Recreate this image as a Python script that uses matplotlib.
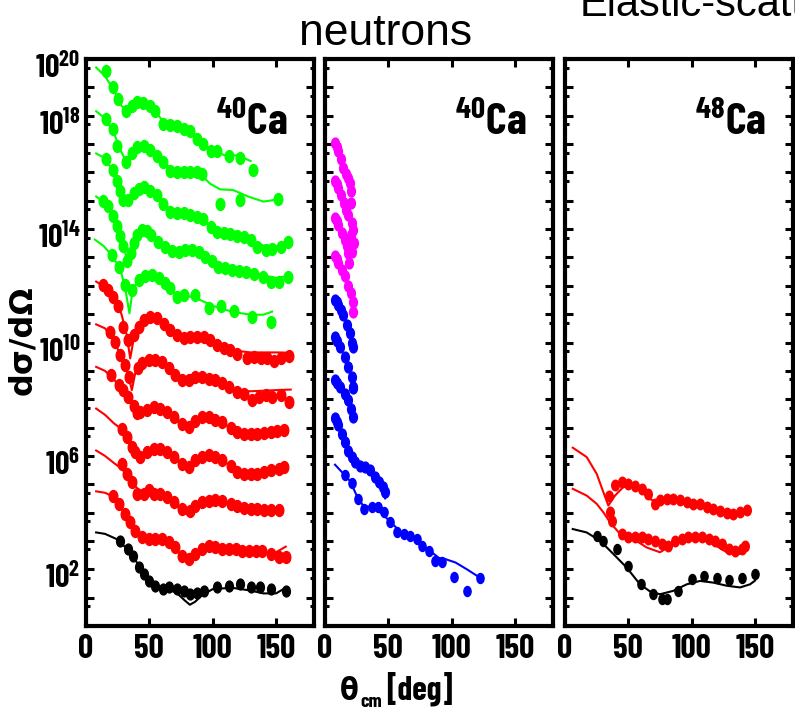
import numpy as np
import matplotlib
matplotlib.use('Agg')
import matplotlib.pyplot as plt
from matplotlib.path import Path
from matplotlib.transforms import Affine2D, ScaledTranslation
from matplotlib.ticker import FixedLocator, FixedFormatter, NullFormatter

COND = 'Barlow Condensed'
plt.rcParams['font.family'] = [COND, 'DejaVu Sans']
plt.rcParams['mathtext.fontset'] = 'custom'
plt.rcParams['mathtext.rm'] = COND + ':bold'
plt.rcParams['mathtext.it'] = COND + ':bold'
plt.rcParams['mathtext.bf'] = COND + ':bold'
plt.rcParams['mathtext.default'] = 'rm'

# ---------------- data: angle [deg], log10(dsigma/dOmega) ----------------
# Panel 1 (40Ca) green series
g1_x = [15.8,21.4,25.4,31.7,36.5,40.4,45.2,50.7,54.7,61,66.6,72,77,82.4,88,92.7,98.3,103.8,112.5,121.2,131.5]
g1_y = [19.58,19.0,18.58,18.16,18.34,18.48,18.44,18.34,18.16,17.7,17.66,17.63,17.52,17.45,17.17,16.99,16.74,16.74,16.57,16.5,16.1]
g1_lx = [8,15,22,28,32,38,45,52,60,70,80,90,100,110,120,130]
g1_ly = [19.7,19.4,18.9,18.35,18.2,18.4,18.45,18.3,17.85,17.65,17.5,17.1,16.75,16.6,16.6,16.4]

g2_x = [15.8,21.4,24.6,31.7,36.5,40.4,46,50.7,56,61,66.6,72,77,82.4,88,91.6,106,121.4,151.6]
g2_y = [17.88,17.52,16.92,16.37,16.7,16.88,16.92,16.8,16.57,16.35,16.05,16.0,16.0,16.0,16.0,15.93,14.9,15.04,15.07]
g2_lx = [8,15,22,27,31,36,42,48,55,62,70,80,90,98,106,116,128,140,152]
g2_ly = [18.16,17.9,17.4,16.8,16.45,16.65,16.9,16.88,16.6,16.3,16.05,16.0,15.95,15.6,15.4,15.38,15.15,14.97,15.05]

g3_x = [15.8,21.4,24.6,27,29.5,33.5,37.6,41.5,46,50.7,56,61,66.6,72,77,82.4,88,92.7,98.3,103.8,108.9,114,119.4,124.6,130,135,141.8,147,153.7,159.5]
g3_y = [16.46,16.1,15.7,15.33,15.04,15.04,15.29,15.43,15.47,15.33,15.22,14.87,14.62,14.58,14.58,14.51,14.44,14.34,14.09,13.91,13.87,13.83,13.77,13.73,13.63,13.38,13.27,13.3,13.38,13.56]
g3_lx = [8,15,22,27,31,36,42,48,55,62,70,80,90,100,110,120,130,140,150,160]
g3_ly = [16.67,16.5,16.0,15.4,15.05,15.15,15.42,15.42,15.25,14.85,14.6,14.55,14.4,14.0,13.85,13.75,13.62,13.42,13.4,13.5]

g4_x = [13.7,17.6,21.4,24.6,27,29.5,32.6,35.7,37.6,40.4,44.3,48,51.5,57,62.6,68,73.4,78.4,83.7,89,94.3,99.6,104.6,110,115.5,120.7,126,132.3,139.4,145.8,152.3,159.5]
g4_y = [14.98,14.8,14.45,14.1,13.75,13.4,12.86,13.17,13.52,13.8,13.98,13.94,13.8,13.56,13.38,13.24,13.2,13.27,13.27,13.2,13.03,12.86,12.68,12.64,12.57,12.53,12.5,12.42,12.32,12.14,12.14,12.32]
g4_lx = [8,14,20,25,29,32.5,35,38,43,48,55,62,70,80,88,95,103,112,122,132,142,150,160]
g4_ly = [15.15,14.95,14.55,14.05,13.5,12.9,13.15,13.6,13.95,13.95,13.65,13.4,13.2,13.25,13.2,13.0,12.72,12.6,12.52,12.45,12.35,12.28,12.35]

g5_x = [20.9,26.4,30.9,36.2,41.5,46.8,52,57.3,62.6,66.6,71.9,77.1,86.4,96.9,106.2,116.7,131.3,145.8]
g5_y = [13.1,12.68,12.04,11.86,12.2,12.33,12.39,12.28,12.1,11.93,11.62,11.68,11.68,11.21,11.27,11.1,10.91,10.74]
g5_lx = [7,14,20,27,31,34.3,37,42,50,60,70,80,90,100,110,120,130,140,147]
g5_ly = [13.63,13.4,13.1,12.6,11.9,11.03,11.9,12.2,12.4,12.2,11.75,11.65,11.5,11.3,11.15,11.05,10.98,10.98,11.09]

# Panel 1 red series
r1_x = [13.7,17.7,21.6,25.6,29.6,33.5,37.5,41.5,45.4,50.7,56,61.3,66.6,71.9,77.1,82.4,87.6,92.9,98.2,103.5,108.8,114,119.4,127.3,132.6,137.9,143.1,148.4,153.7,160.3]
r1_y = [12.04,11.86,11.62,11.27,10.56,10.09,10.27,10.56,10.8,10.89,10.85,10.67,10.44,10.27,10.15,10.2,10.2,10.2,10.1,9.91,9.79,9.72,9.61,9.44,9.5,9.44,9.44,9.35,9.44,9.52]
r1_lx = [8,15,22,28,32,34.9,38,42,48,55,62,70,80,90,100,110,120,130,140,150,161.6]
r1_ly = [12.15,11.95,11.6,11.0,10.3,9.44,10.2,10.55,10.85,10.88,10.65,10.3,10.15,10.2,10.05,9.8,9.7,9.65,9.65,9.65,9.64]

r2_x = [19,23,27,30.9,34.3,40.7,44,49.4,54.7,59.9,65.2,70.5,75.8,81.1,86.4,91.6,96.9,102.2,107.5,112.8,119.4,124.6,131.3,136.6,141.9,147.2,153.7,160.3]
r2_y = [10.38,10.03,9.56,9.2,8.79,9.09,9.26,9.38,9.39,9.32,9.09,8.85,8.67,8.67,8.79,8.8,8.73,8.67,8.56,8.44,8.26,8.2,7.96,8.08,8.14,8.08,8.14,7.91]
r2_lx = [8,15,22,28,33,36.2,39,44,50,58,65,72,80,88,96,104,112,120,130,140,150,161.6]
r2_ly = [10.64,10.5,10.1,9.45,8.9,8.32,8.95,9.25,9.38,9.33,9.1,8.8,8.68,8.78,8.75,8.65,8.45,8.3,8.28,8.3,8.32,8.34]

r3_x = [20,26,29.6,33.5,37.5,40,42.8,48.1,53.3,58.6,63.9,69.2,75.8,81.1,86.4,91.7,97,102.2,107.5,114.1,119.4,124.6,129.9,135.2,140.5,145.8,151.1,156.4]
r3_y = [8.85,8.5,8.32,8.08,7.75,7.5,7.55,7.61,7.73,7.67,7.55,7.37,7.13,7.02,7.23,7.37,7.37,7.25,7.2,6.97,6.85,6.79,6.79,6.79,6.8,6.85,6.88,6.91]
r3_lx = [8,15,22,30,36,40,45,52,58,65,72,78,82,88,95,102,110,118,126,135,145,157]
r3_ly = [9.14,9.0,8.7,8.25,7.8,7.5,7.55,7.72,7.7,7.5,7.22,7.05,7.05,7.25,7.35,7.3,7.1,6.9,6.8,6.78,6.82,6.9]

r4_x = [28.3,32.3,36.4,38.8,42.8,48.1,53.3,58.6,63.9,69.2,75.8,81.1,86.4,91.7,97,102.2,107.5,114.1,119.4,124.6,129.9,135.2,140.5,145.8,152.4,156.4]
r4_y = [6.96,6.67,6.31,6.14,5.96,6.14,6.25,6.25,6.14,5.96,5.72,5.6,5.84,5.96,6.02,5.96,5.84,5.66,5.43,5.37,5.37,5.37,5.43,5.49,5.55,5.61]
r4_lx = [8,15,22,28,34,38,42,46,52,60,68,76,82,90,98,108,115,125,135,145,157]
r4_ly = [7.67,7.45,7.15,6.95,6.5,6.1,5.9,6.0,6.2,6.2,6.0,5.7,5.65,5.9,6.0,5.85,5.6,5.4,5.35,5.42,5.55]

r5_x = [28.3,32.7,36.4,40.2,45.4,49.4,53.3,58.6,63.9,69.2,75.8,81.9,86.4,91.7,97,102.2,107.5,114.1,119.4,124.6,129.9,135.2,140.5,145.8,152.4]
r5_y = [5.72,5.37,5.07,4.66,4.66,4.78,4.66,4.66,4.54,4.37,4.13,4.07,4.25,4.37,4.42,4.44,4.42,4.32,4.25,4.16,4.13,4.13,4.1,4.1,4.1]
r5_lx = [8,15,22,28,33,37,42,48,55,65,75,81,88,95,105,115,125,135,145,152]
r5_ly = [6.19,6.0,5.75,5.55,5.3,5.0,4.8,4.72,4.68,4.5,4.1,3.9,4.2,4.4,4.45,4.3,4.15,4.1,4.1,4.1]

r6_x = [21.1,26.4,30.9,34.9,38.8,44.1,49.4,54.7,60,65.2,70.5,75.8,81.1,86.4,91.7,97,102.2,107.5,112.8,118.1,123.4,128.7,134,139.3,145.8,152.4,157.7]
r6_y = [4.6,4.31,3.95,3.66,3.36,3.13,3.07,3.07,3.07,2.95,2.77,2.48,2.36,2.54,2.71,2.83,2.77,2.71,2.72,2.71,2.65,2.63,2.63,2.63,2.54,2.42,2.42]
r6_lx = [8,15,22,30,38,45,55,65,75,81,88,97,110,125,140,150,157.7]
r6_ly = [4.75,4.7,4.55,4.0,3.4,3.15,3.08,2.95,2.5,2.35,2.55,2.8,2.75,2.65,2.6,2.6,2.8]

# Panel 1 black series
k1_x = [27,33,37,41.5,45.4,49.4,54.7,60.7,65.2,71.9,77.1,81.9,87.6,92.9,103.5,113,121.5,130,137.4,146.4,157.7]
k1_y = [3.01,2.72,2.48,2.07,1.83,1.59,1.42,1.32,1.36,1.3,1.24,1.12,1.18,1.24,1.36,1.42,1.48,1.38,1.36,1.3,1.24]
k1_lx = [8,15,25,35,45,55,65,72,78,82,86,92,100,115,130,140,150,157.7]
k1_ly = [3.3,3.25,3.05,2.6,1.9,1.45,1.3,1.15,0.9,0.75,0.85,1.1,1.3,1.35,1.25,1.15,1.15,1.35]

# Panel 2 (40Ca) magenta and blue series
m1_x = [7.9,9.2,10.6,12.4,14.5,16.6,18.2,19.8,20.3,20.3]
m1_y = [17.05,16.9,16.76,16.46,16.16,15.93,15.8,15.63,15.34,14.93]
m2_x = [7.9,9.2,10.6,13,15,16.6,18.5,21.1,22.4,20.8]
m2_y = [15.7,15.6,15.46,15.22,14.93,14.69,14.5,14.22,13.98,13.8]
m3_x = [7.9,9.2,10.6,13.2,15.8,17.5,18.5,19.3,21,22.5]
m3_y = [14.4,14.3,14.16,13.87,13.63,13.4,13.16,12.81,13.2,13.5]
m4_x = [7.9,9.2,10.6,13.2,15.8,18.5,20.3,22,22.4]
m4_y = [13.04,12.95,12.81,12.57,12.33,11.98,11.74,11.44,11.09]

b1_x = [7.9,9.2,10.6,12.5,14.5,17.2,19.8,21.5,22.4]
b1_y = [11.5,11.42,11.33,11.15,10.97,10.62,10.33,10.0,9.85]
b2_x = [7.9,9.5,11.9,15.8,18.5,21.1,22,22.4]
b2_y = [10.2,10.05,9.85,9.5,9.14,8.79,8.44,8.38]
b3_x = [7.9,9.5,11.9,15.8,18.5,20.3,22]
b3_y = [8.67,8.58,8.44,8.2,7.96,7.67,7.37]
b4_x = [7.9,9.2,10.6,13.2,15.8,18.5,21.1,23.8,27.7,31.7,35.7,39.6,43,45.7,47.5]
b4_y = [7.32,7.2,7.08,6.78,6.49,6.19,5.96,5.78,5.66,5.6,5.49,5.25,5.07,4.9,4.72]
b4_lx = [8,15,22,28,35,42,47.5]
b4_ly = [7.3,6.55,5.9,5.65,5.5,5.1,4.5]
b5_x = [15.8,21.1,26.4,30.9,37,41.5,46.2,51.5,56.8,62,67.3,72.6,76.6,81.8,87.2,92.5,101.7,112.3,122.3]
b5_y = [5.31,5.04,4.48,4.13,4.19,4.19,4.01,3.66,3.3,3.25,3.19,3.07,2.83,2.65,2.3,2.24,1.73,1.24,1.71]
b5_lx = [7.9,15,20,25,30,40,50,60,70,80,90,95,103,112,120,122.3]
b5_ly = [5.69,5.35,5.1,4.6,4.25,4.15,3.75,3.3,3.1,2.75,2.4,2.36,2.24,2.0,1.77,1.71]

# Panel 3 (48Ca)
ra_x = [35,39.5,44.8,50,55,60.6,65.8,71.1,75,80.3,85.5,90.8,96.1,101.3,106.6,111.9,117.1,122.4,127.7,132.9,138.2,143.5]
ra_y = [4.6,4.96,5.07,5.02,4.95,4.84,4.66,4.31,4.43,4.48,4.48,4.45,4.37,4.31,4.29,4.2,4.14,4.05,3.98,3.96,4.02,4.1]
ra_lx = [6.1,17.1,25,30.3,34.2,39.5,46,51.3,59.2,67.1,72.4,80,90,100,110,120,130,138,143.5]
ra_ly = [6.29,5.96,5.37,4.72,4.25,4.6,4.9,4.95,4.78,4.48,4.37,4.4,4.4,4.3,4.2,4.08,3.98,3.98,4.05]
rb_x = [35.5,36.9,44.8,50,55.3,60.6,65.8,71.1,76.3,81.6,86.9,92.1,97.4,102.7,108,113.3,118.5,123.8,129.1,134.3,139.6,142.2]
rb_y = [4.01,3.72,3.25,3.13,3.13,3.13,3.07,3.01,2.89,2.83,3.01,3.07,3.13,3.13,3.13,3.07,3.01,2.89,2.71,2.65,2.71,2.83]
rb_lx = [6.1,17.1,25,30.3,35.5,43.4,54,64.5,75,85.5,96.1,106.6,117.1,127.7,138.2,143.5]
rb_ly = [4.84,4.6,4.31,4.01,3.66,3.25,3.07,2.77,2.6,2.89,3.07,3.07,2.89,2.6,2.54,2.71]
k3_x = [25,30.3,40.8,50,59.8,69.7,76.3,80.3,89.5,100,109.8,120.3,129.8,139.6,150]
k3_y = [3.19,3.01,2.72,2.12,1.47,1.12,0.94,0.94,1.24,1.65,1.77,1.71,1.62,1.69,1.85]
k3_lx = [6.1,17.1,27.6,38.2,48.7,59.2,67.1,75,85.5,96.1,106.6,117.1,127.7,138.2,146.1,150]
k3_ly = [3.42,3.3,3.01,2.54,2.06,1.47,1.22,1.12,1.24,1.47,1.59,1.53,1.42,1.36,1.47,1.6]

x_ticks = [0, 50, 100, 150]
y_label_exps = [20, 18, 14, 10, 6, 2]
panel_labels = ['40', '40', '48']

GREEN, RED, BLACK, MAG, BLUE = '#00ff00', '#ff0000', '#000000', '#ff00ff', '#0000ff'

ell = Path.unit_circle().transformed(Affine2D().scale(0.72, 1.0))

fig = plt.figure(figsize=(7.95, 7.24), dpi=100)
W, H = 795.0, 724.0
lefts = [86, 325, 565]
axes = []
down = ScaledTranslation(0, -6 / 100.0, fig.dpi_scale_trans)
for i, l in enumerate(lefts):
    ax = fig.add_axes([l / W, 1 - 626 / H, 228 / W, 567 / H])
    ax.set_yscale('log')
    ax.set_xlim(0, 180)
    ax.set_ylim(1, 1e20)
    ax.xaxis.set_major_locator(FixedLocator(x_ticks))
    ax.set_xticklabels([str(t) for t in x_ticks])
    ax.yaxis.set_major_locator(FixedLocator(10.0 ** np.arange(0, 21)))
    ax.yaxis.set_minor_locator(FixedLocator(5 * 10.0 ** np.arange(0, 20)))
    ax.yaxis.set_minor_formatter(NullFormatter())
    if i == 0:
        labs = [(r'$10^{%d}$' % e if e in y_label_exps else '') for e in range(0, 21)]
        ax.yaxis.set_major_formatter(FixedFormatter(labs))
    else:
        ax.yaxis.set_major_formatter(NullFormatter())
    ax.tick_params(which='major', direction='in', top=True, right=True,
                   length=6, width=2.2)
    ax.tick_params(axis='x', pad=6, labelsize=24)
    ax.tick_params(axis='y', pad=4, labelsize=23)
    ax.tick_params(which='minor', direction='in', left=True, right=True,
                   length=3, width=2.2)
    for lab in ax.get_xticklabels() + ax.get_yticklabels():
        lab.set_fontweight('bold')
    for lab in ax.get_yticklabels():
        lab.set_transform(lab.get_transform() + down)
    for s in ax.spines.values():
        s.set_linewidth(3.0)
    ax.text(0.885, 0.866, r'$^{%s}$Ca' % panel_labels[i], transform=ax.transAxes,
            ha='right', va='baseline', fontsize=32, fontweight='bold')
    axes.append(ax)


def draw(ax, px, py, lx, ly, color, ms):
    if lx is not None:
        ax.plot(lx, 10.0 ** np.array(ly), color=color, lw=1.5, zorder=2)
    ax.plot(px, 10.0 ** np.array(py), ls='none', marker=ell, ms=ms,
            color=color, mec=color, zorder=3)


a1, a2, a3 = axes
for px, py, lx, ly in [(g1_x, g1_y, g1_lx, g1_ly), (g2_x, g2_y, g2_lx, g2_ly),
                       (g3_x, g3_y, g3_lx, g3_ly), (g4_x, g4_y, g4_lx, g4_ly),
                       (g5_x, g5_y, g5_lx, g5_ly)]:
    draw(a1, px, py, lx, ly, GREEN, 8.6)
for px, py, lx, ly in [(r1_x, r1_y, r1_lx, r1_ly), (r2_x, r2_y, r2_lx, r2_ly),
                       (r3_x, r3_y, r3_lx, r3_ly), (r4_x, r4_y, r4_lx, r4_ly),
                       (r5_x, r5_y, r5_lx, r5_ly), (r6_x, r6_y, r6_lx, r6_ly)]:
    draw(a1, px, py, lx, ly, RED, 8.6)
draw(a1, k1_x, k1_y, k1_lx, k1_ly, BLACK, 7.8)

for px, py in [(m1_x, m1_y), (m2_x, m2_y), (m3_x, m3_y), (m4_x, m4_y)]:
    draw(a2, px, py, None, None, MAG, 7.8)
for px, py in [(b1_x, b1_y), (b2_x, b2_y), (b3_x, b3_y)]:
    draw(a2, px, py, None, None, BLUE, 7.8)
draw(a2, b4_x, b4_y, b4_lx, b4_ly, BLUE, 7.8)
draw(a2, b5_x, b5_y, b5_lx, b5_ly, BLUE, 7.2)

draw(a3, ra_x, ra_y, ra_lx, ra_ly, RED, 7.6)
draw(a3, rb_x, rb_y, rb_lx, rb_ly, RED, 7.6)
draw(a3, k3_x, k3_y, k3_lx, k3_ly, BLACK, 7.2)

fig.text(386 / W, 1 - 45 / H, 'neutrons', ha='center', va='baseline',
         fontsize=32, family=['Liberation Sans', 'DejaVu Sans'])
fig.text(580 / W, 1 - 16 / H, 'Elastic-scattering', ha='left', va='baseline',
         fontsize=30, family=['Liberation Sans', 'DejaVu Sans'])
fig.text(23 / W, 1 - 340 / H, 'd\u03c3/d\u03a9', rotation=90, ha='center', va='center',
         fontsize=23, fontweight='bold', family=['DejaVu Sans'])
# x-axis title: theta (DejaVu condensed bold), subscript "cm", then "[deg]"
fig.text(359 / W, 1 - 700 / H, '\u03b8', ha='right', va='baseline',
         fontsize=22, fontweight='bold', family=['DejaVu Sans'], fontstretch='condensed')
fig.text(360 / W, 1 - 707 / H, 'cm', ha='left', va='baseline',
         fontsize=14, fontweight='bold', family=[COND, 'DejaVu Sans'])
fig.text(386 / W, 1 - 700 / H, '[deg]', ha='left', va='baseline',
         fontsize=24, fontweight='bold', family=[COND, 'DejaVu Sans'])

fig.savefig('out.png', dpi=100)
